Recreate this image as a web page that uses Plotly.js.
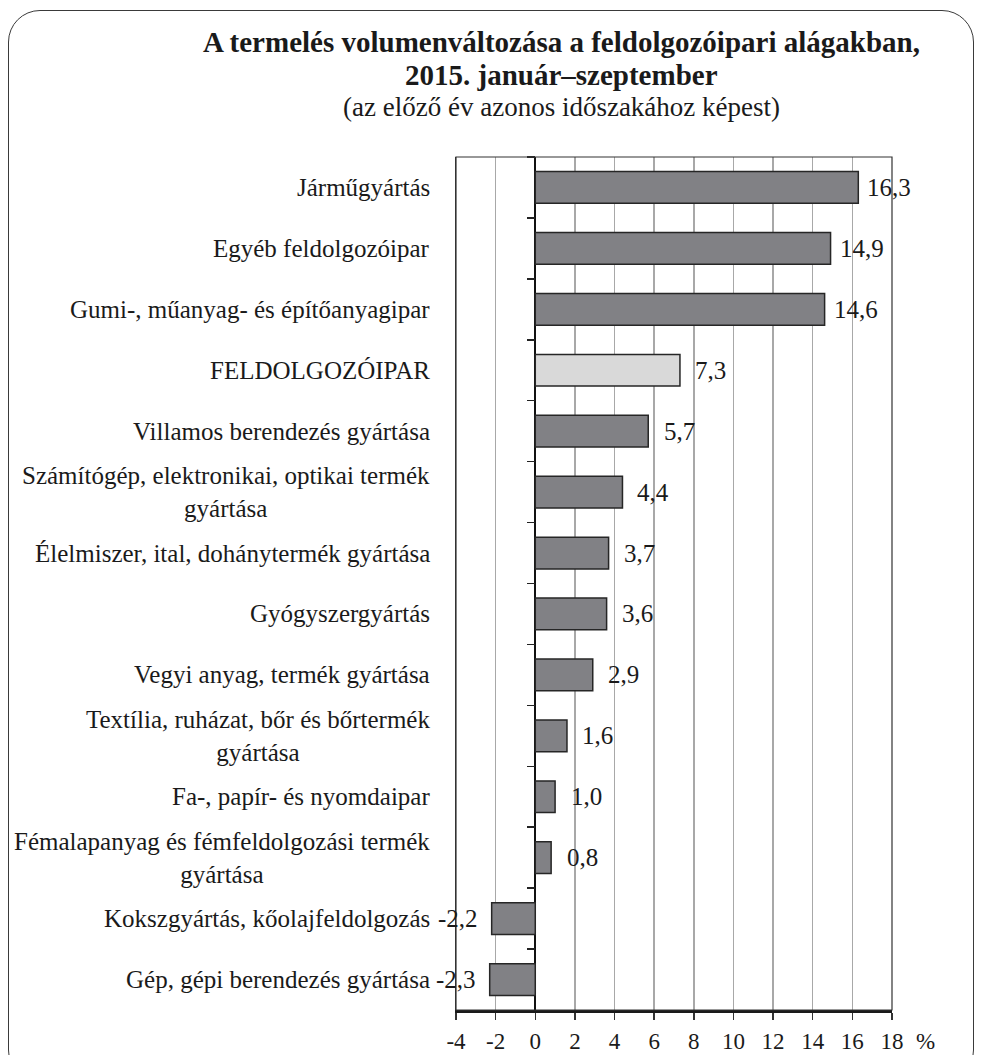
<!DOCTYPE html>
<html>
<head>
<meta charset="utf-8">
<script src="https://cdn.plot.ly/plotly-3.0.1.min.js"></script>
<style>
  html, body { margin: 0; padding: 0; background: #fff; }
  #wrap { position: relative; width: 982px; height: 1055px; overflow: hidden; }
  #chart { position: absolute; left: 0; top: 0; width: 982px; height: 1055px; }
  #frame { position: absolute; left: 8px; top: 10px; width: 966px; height: 1072px;
           border: 1.5px solid #3a3a3a; border-radius: 32px; pointer-events: none; box-sizing: border-box; }
</style>
</head>
<body>
<div id="wrap">
  <div id="chart"></div>
  <div id="frame"></div>
</div>
<script>
// Categories (top to bottom)
const categories = [
  "Járműgyártás",
  "Egyéb feldolgozóipar",
  "Gumi-, műanyag- és építőanyagipar",
  "FELDOLGOZÓIPAR",
  "Villamos berendezés gyártása",
  "Számítógép, elektronikai, optikai termék gyártása",
  "Élelmiszer, ital, dohánytermék gyártása",
  "Gyógyszergyártás",
  "Vegyi anyag, termék gyártása",
  "Textília, ruházat, bőr és bőrtermék gyártása",
  "Fa-, papír- és nyomdaipar",
  "Fémalapanyag és fémfeldolgozási termék gyártása",
  "Kokszgyártás, kőolajfeldolgozás",
  "Gép, gépi berendezés gyártása"
];
// Labels as displayed (line breaks)
const categoryLabels = [
  "Járműgyártás",
  "Egyéb feldolgozóipar",
  "Gumi-, műanyag- és építőanyagipar",
  "FELDOLGOZÓIPAR",
  "Villamos berendezés gyártása",
  "Számítógép, elektronikai, optikai termék<br>gyártása",
  "Élelmiszer, ital, dohánytermék gyártása",
  "Gyógyszergyártás",
  "Vegyi anyag, termék gyártása",
  "Textília, ruházat, bőr és bőrtermék<br>gyártása",
  "Fa-, papír- és nyomdaipar",
  "Fémalapanyag és fémfeldolgozási termék<br>gyártása",
  "Kokszgyártás, kőolajfeldolgozás",
  "Gép, gépi berendezés gyártása"
];
// Volume change (%)
const values = [16.3, 14.9, 14.6, 7.3, 5.7, 4.4, 3.7, 3.6, 2.9, 1.6, 1.0, 0.8, -2.2, -2.3];
const highlightCategory = "FELDOLGOZÓIPAR";
// X axis ticks
const xTickValues = [-4, -2, 0, 2, 4, 6, 8, 10, 12, 14, 16, 18];
const xTickLabels = ["-4", "-2", "0", "2", "4", "6", "8", "10", "12", "14", "16", "18"];
const unitLabel = "%";
const titleLines = [
  "A termelés volumenváltozása a feldolgozóipari alágakban,",
  "2015. január–szeptember",
  "(az előző év azonos időszakához képest)"
];

const FONT = "Liberation Serif";
const TXT = "#1a1a1a";
const xmin = -4, xmax = 18;
const plotLeft = 456, plotWidth = 436;

const barColors = categories.map(c => c === highlightCategory ? "#d9d9d9" : "#818185");
const fmt = v => v.toFixed(1).replace(".", ",");

const traces = [
  {
    type: "bar",
    orientation: "h",
    x: values,
    y: categories,
    marker: { color: barColors, line: { color: "#262626", width: 1.5 } },
    hoverinfo: "x+y",
    showlegend: false,
    xaxis: "x", yaxis: "y"
  },
  {
    type: "scatter",
    mode: "markers",
    x: values,
    y: categories,
    marker: { opacity: 0, size: 1 },
    hoverinfo: "skip",
    showlegend: false,
    xaxis: "x", yaxis: "y2"
  }
];

const annotations = [];
// Title lines
[0, 1, 2].forEach(i => {
  annotations.push({
    x: (561 - plotLeft) / plotWidth, xref: "paper", y: 1, yref: "paper", yanchor: "middle",
    xanchor: "center", yshift: [115, 82, 50][i],
    text: i < 2 ? "<b>" + titleLines[i] + "</b>" : titleLines[i],
    showarrow: false,
    font: { family: FONT, size: i < 2 ? 29 : 27, color: TXT }
  });
});
categories.forEach((c, i) => {
  annotations.push({
    x: -0.055, xref: "paper", xanchor: "right",
    y: c, yref: "y", yanchor: "middle",
    text: categoryLabels[i], align: "center", showarrow: false,
    font: { family: FONT, size: 25, color: TXT }
  });
  const v = values[i];
  annotations.push({
    x: v, xref: "x", y: c, yref: "y",
    xanchor: "center", yanchor: "middle",
    xshift: v >= 0 ? 31 : -34,
    text: fmt(v), showarrow: false,
    font: { family: FONT, size: 25, color: TXT }
  });
});
annotations.push({
  x: (937 - plotLeft) / plotWidth, xref: "paper", y: 0, yref: "paper", yanchor: "middle", yshift: -31,
  text: unitLabel, showarrow: false, font: { family: FONT, size: 23, color: TXT }
});

const layout = {
  width: 982, height: 1055,
  margin: { l: 456, r: 90, t: 157, b: 45 },
  paper_bgcolor: "rgba(0,0,0,0)",
  plot_bgcolor: "#fff",
  bargap: 0.48,
  font: { family: FONT, size: 23, color: TXT },
  xaxis: {
    range: [xmin, xmax],
    tickmode: "array", tickvals: xTickValues, ticktext: xTickLabels,
    ticks: "outside", ticklen: 7, tickwidth: 1.5, tickcolor: "#333",
    ticklabelstandoff: 1,
    tickfont: { family: FONT, size: 23, color: TXT },
    showgrid: true, gridcolor: "#a8a8a8", gridwidth: 1.5,
    zeroline: true, zerolinecolor: "#111", zerolinewidth: 2,
    showline: true, linecolor: "#1a1a1a", linewidth: 3,
    fixedrange: true
  },
  yaxis: {
    type: "category", categoryorder: "array", categoryarray: categories,
    range: [categories.length - 0.5, -0.5],
    showticklabels: false, ticks: "", showgrid: false, zeroline: false,
    showline: true, linecolor: "#333", linewidth: 1.2,
    fixedrange: true
  },
  yaxis2: {
    type: "category", categoryorder: "array", categoryarray: categories,
    range: [categories.length - 0.5, -0.5],
    overlaying: "y", anchor: "free", side: "left",
    position: (0 - xmin) / (xmax - xmin),
    showticklabels: false, ticks: "outside", tickson: "boundaries",
    ticklen: 8, tickwidth: 1.5, tickcolor: "#222",
    showgrid: false, zeroline: false, showline: false,
    fixedrange: true
  },
  shapes: [
    { type: "rect", xref: "paper", yref: "paper", x0: 0, x1: 1, y0: 0, y1: 1,
      line: { color: "#333", width: 1.2 }, fillcolor: "rgba(0,0,0,0)", layer: "above" }
  ],
  annotations: annotations
};

Plotly.newPlot("chart", traces, layout, { staticPlot: true, displayModeBar: false });
</script>
</body>
</html>
